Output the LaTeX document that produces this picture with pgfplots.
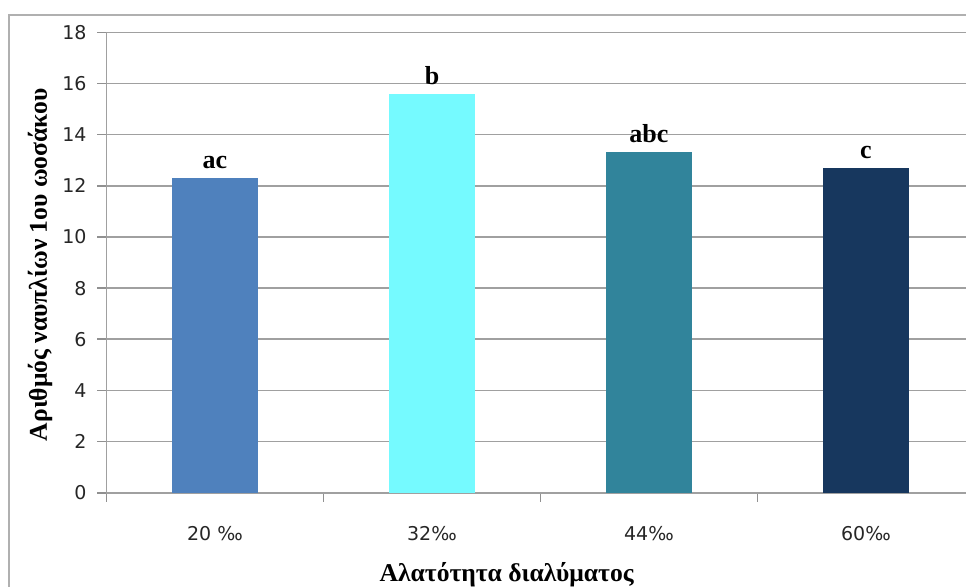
\documentclass[border=0pt]{standalone}
\usepackage{pgfplots}
\pgfplotsset{compat=1.18}
\usepackage{fontspec}
\setmainfont{Liberation Serif}
\newfontfamily\tickfont{DejaVu Sans}
\definecolor{c1}{HTML}{4F81BD}
\definecolor{c2}{HTML}{75FAFF}
\definecolor{c3}{HTML}{31849B}
\definecolor{c4}{HTML}{17375E}
\definecolor{gridc}{HTML}{A0A0A0}
\definecolor{framec}{HTML}{B0B0B0}
\begin{document}
\begin{tikzpicture}
\draw[framec, line width=1pt] (4.5pt,-310pt) -- (4.5pt,-7.5pt) -- (500pt,-7.5pt);
\begin{axis}[
  at={(53.25pt,-246.35pt)}, anchor=south west,
  scale only axis, width=434pt, height=230.2pt,
  xmin=-0.5, xmax=3.5, ymin=0, ymax=18,
  ytick={0,2,...,18},
  xtick={-0.5,0.5,1.5,2.5,3.5},
  xticklabels={},
  extra x ticks={0,1,2,3},
  extra x tick labels={20 ‰, 32‰, 44‰, 60‰},
  extra x tick style={major tick length=0pt, grid=none},
  axis lines*=left,
  axis line style={gridc, line width=0.8pt},
  ymajorgrids, grid style={gridc, line width=0.8pt},
  tick align=outside,
  tick style={gridc!90!black, line width=0.8pt},
  major tick length=4.5pt,
  /pgf/number format/assume math mode=true,
  ticklabel style={font=\tickfont\fontsize{9.5}{11}\selectfont, text=black!85},
  yticklabel style={anchor=east, xshift=-2pt},
  xticklabel style={anchor=north, yshift=-13.5pt},
  label style={font=\bfseries\fontsize{12.8}{15}\selectfont},
  ylabel={Αριθμός ναυπλίων 1ου ωοσάκου},
  ylabel style={at={(axis description cs:-0.0766,0.495)}, anchor=center},
  xlabel={Αλατότητα διαλύματος},
  xlabel style={at={(axis description cs:0.461,-0.179)}, anchor=center},
  ybar, bar width=43pt, bar shift=0pt,
  point meta=explicit symbolic,
  nodes near coords,
  nodes near coords style={font=\bfseries\fontsize{13}{15}\selectfont, anchor=south, yshift=1pt},
]
\addplot[fill=c1, draw=none] coordinates {(0,12.3) [ac]};
\addplot[fill=c2, draw=none] coordinates {(1,15.6) [b]};
\addplot[fill=c3, draw=none] coordinates {(2,13.32) [abc]};
\addplot[fill=c4, draw=none] coordinates {(3,12.71) [c]};
\end{axis}
\pgfresetboundingbox
\useasboundingbox (0,0) rectangle (483pt,-293pt);
\end{tikzpicture}
\end{document}
